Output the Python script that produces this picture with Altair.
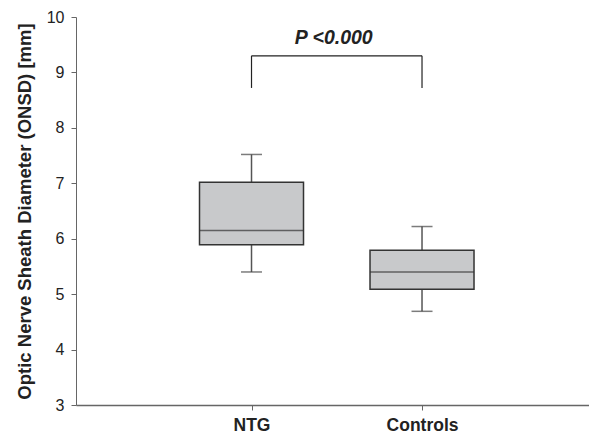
import altair as alt
import pandas as pd

groups = ["NTG", "Controls"]
positions = [1, 2]
whisker_low = [5.40, 4.69]
q1 = [5.89, 5.09]
median = [6.15, 5.40]
q3 = [7.02, 5.79]
whisker_high = [7.52, 6.22]

bracket_top = 9.30
bracket_bottom = 8.72
p_label = "P <0.000"
p_label_y = 9.52

df = pd.DataFrame({
    "group": groups, "pos": positions, "lo": whisker_low, "q1": q1,
    "med": median, "q3": q3, "hi": whisker_high,
})

xscale = alt.Scale(domain=[0, 2.95], nice=False, zero=False)
yscale = alt.Scale(domain=[3, 10], nice=False, zero=False)

label_expr = " : ".join(
    [f"datum.value == {p} ? '{g}'" for p, g in zip(positions[:-1], groups[:-1])]
) + f" : '{groups[-1]}'"

xaxis = alt.Axis(
    values=positions, labelExpr=label_expr, title=None, grid=False,
    labelFont="Liberation Sans", labelFontSize=17.5, labelFontWeight="bold",
    labelColor="#222", tickSize=5, tickColor="#666", domainColor="#666",
    domainWidth=1.5, labelPadding=6,
)
yaxis = alt.Axis(
    values=list(range(3, 11)), format="d", title="Optic Nerve Sheath Diameter (ONSD) [mm]",
    grid=False, labelFont="Liberation Sans", labelFontSize=16, labelColor="#222",
    titleFont="Liberation Sans", titleFontSize=18.5, titleFontWeight="bold",
    titleColor="#222", tickSize=5, tickColor="#666", domainColor="#666",
    labelPadding=7, titlePadding=12,
)

base = alt.Chart(df)

whisk_lo = base.mark_rule(color="#555", strokeWidth=1.5).encode(
    x=alt.X("pos:Q", scale=xscale, axis=xaxis),
    y=alt.Y("lo:Q", scale=yscale, axis=yaxis), y2="q1:Q")
whisk_hi = base.mark_rule(color="#555", strokeWidth=1.5).encode(
    x="pos:Q", y="q3:Q", y2="hi:Q")
cap_lo = base.mark_tick(orient="horizontal", size=21, thickness=1.5, color="#444").encode(
    x="pos:Q", y="lo:Q")
cap_hi = base.mark_tick(orient="horizontal", size=21, thickness=1.5, color="#444").encode(
    x="pos:Q", y="hi:Q")
box = base.mark_bar(size=104, fill="#c8c9cb", stroke="#333", strokeWidth=1.5).encode(
    x="pos:Q", y="q1:Q", y2="q3:Q")
med = base.mark_tick(orient="horizontal", size=104, thickness=1.5, color="#333").encode(
    x="pos:Q", y="med:Q")

br_df = pd.DataFrame({"x1": [positions[0]], "x2": [positions[1]],
                      "top": [bracket_top], "bot": [bracket_bottom],
                      "xm": [(positions[0] + positions[1]) / 2], "ty": [p_label_y],
                      "label": [p_label]})
br = alt.Chart(br_df)
br_h = br.mark_rule(color="#222", strokeWidth=1.2).encode(x="x1:Q", x2="x2:Q", y="top:Q")
br_l = br.mark_rule(color="#222", strokeWidth=1.2).encode(x="x1:Q", y="bot:Q", y2="top:Q")
br_r = br.mark_rule(color="#222", strokeWidth=1.2).encode(x="x2:Q", y="bot:Q", y2="top:Q")
txt = br.mark_text(font="Liberation Sans", fontSize=19.5, fontWeight="bold",
                   fontStyle="italic", color="#222", baseline="alphabetic", dx=-3).encode(
    x="xm:Q", y="ty:Q", text="label:N")

chart = alt.layer(whisk_lo, whisk_hi, cap_lo, cap_hi, box, med, br_h, br_l, br_r, txt).properties(
    width=513, height=388,
    autosize=alt.AutoSizeParams(type="none"),
    padding={"left": 68, "top": 9, "right": 0, "bottom": 30},
).configure_view(stroke=None)

chart.save("out.html", embed_options={"renderer": "svg", "actions": False})
